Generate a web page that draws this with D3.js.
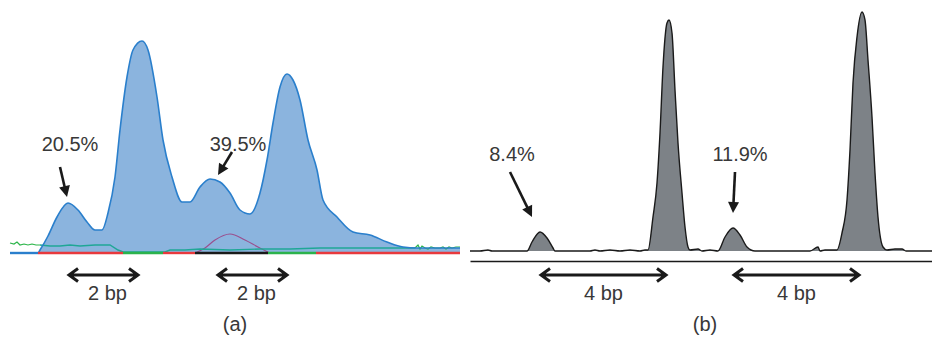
<!DOCTYPE html>
<html>
<head>
<meta charset="utf-8">
<script src="https://d3js.org/d3.v7.min.js"></script>
<style>
  body { margin: 0; background: #fff; }
  text { font-family: "Liberation Sans", Arial, sans-serif; font-size: 20px; fill: #383838; }
</style>
</head>
<body>
<script>
// ---- panel (a) : capillary trace, scan number vs signal ----
var scanA   = [0, 28, 30, 38, 47, 58, 68, 77, 85, 92, 98, 105, 110, 117, 123, 132, 138, 147, 153, 162, 172, 180, 190, 200, 210, 220, 230, 240, 250, 257, 263, 270, 277, 283, 290, 298, 307, 313, 327, 343, 360, 377, 393, 407, 450];
var signalA = [0, 0, 3, 17, 36, 50, 43, 31, 23, 23, 40, 76, 123, 176, 203, 212, 203, 156, 113, 76, 51, 51, 66, 74, 71, 60, 43, 39, 60, 93, 130, 166, 179, 173, 153, 113, 83, 53, 36, 21, 18, 11, 6, 5, 5];

// other dye channels
var scanTeal   = [30, 40, 50, 60, 70, 85, 100, 108, 113, 155, 160, 175, 190, 220, 250, 280, 310, 360, 405];
var tealA      = [8, 7, 7, 8, 7, 8, 8, 3, 1, 1, 3, 3, 4, 3, 4, 4, 5, 5, 5];
var scanGreenL = [0, 4, 7, 10, 14, 18, 22, 26, 30];
var greenL     = [10, 9, 11, 8, 9, 8, 9, 8, 8];
var scanGreenR = [405, 408, 410, 412, 415, 418, 421, 425, 430, 433, 436, 439, 442, 446, 450];
var greenR     = [5, 8, 4, 7, 5, 4, 6, 5, 5, 6, 4, 6, 5, 6, 6];
var scanPurple = [185, 195, 205, 220, 235, 248, 260];
var purpleA    = [0, 5, 13, 19, 13, 6, 0];

// base calls along the baseline
var baseCalls = ["C", "T", "A", "T", "G", "A", "T"];
var baseEnds  = [28, 113, 153, 185, 258, 306, 450];

// ---- panel (b) ----
var scanB   = [0, 10, 18, 22, 57, 62, 70, 77, 83, 85, 120, 125, 130, 140, 150, 160, 170, 175, 178, 183, 187, 190, 193, 197, 199, 202, 205, 208, 212, 215, 218, 220, 228, 232, 240, 248, 255, 263, 270, 277, 285, 330, 340, 348, 350, 355, 367, 372, 377, 380, 383, 387, 392, 395, 398, 402, 405, 408, 413, 417, 425, 432, 436, 462];
var signalB = [0, 0, 1, 0, 0, 9, 19, 13, 3, 0, 0, 1, 0, 1, 0, 1, 0, 1, 1, 34, 68, 118, 184, 228, 231, 218, 161, 108, 58, 24, 4, 1, 2, 0, 1, 0, 14, 23, 16, 4, 0, 0, 0, 4, 0, 1, 1, 18, 51, 101, 168, 214, 239, 231, 191, 134, 78, 34, 4, 1, 2, 2, 0, 0];

// annotations
var pctPeaksA  = [58, 200];
var pctLabelsA = ["20.5%", "39.5%"];
var pctPeaksB  = [70, 263];
var pctLabelsB = ["8.4%", "11.9%"];
var spansA = [[58, 129], [207, 278]];
var spansB = [[70, 197], [263, 390]];
var spanLabelA = "2 bp";
var spanLabelB = "4 bp";
var panelLabels = ["(a)", "(b)"];

var svgWidth = 932;
var svgHeight = 340;

var svg = d3.select("body")
  .append("svg")
  .attr("width", svgWidth)
  .attr("height", svgHeight);

// scales
var xA = d3.scaleLinear().domain([0, 450]).range([10, 460]);
var yA = d3.scaleLinear().domain([0, 220]).range([253, 33]);
var xB = d3.scaleLinear().domain([0, 462]).range([470, 932]);
var yB = d3.scaleLinear().domain([0, 240]).range([251, 11]);

function pairs(xs, ys) {
  return xs.map((x, i) => [x, ys[i]]);
}
function valueAt(xs, ys, x) {
  return ys[xs.indexOf(x)];
}

// arrow with a filled head
function arrow(g, x1, y1, x2, y2) {
  var dx = x2 - x1, dy = y2 - y1;
  var len = Math.hypot(dx, dy);
  var ux = dx / len, uy = dy / len;
  var hl = 11, hw = 5.5;
  var bx = x2 - ux * hl, by = y2 - uy * hl;
  g.append("line")
    .attr("x1", x1).attr("y1", y1)
    .attr("x2", bx + ux * 2).attr("y2", by + uy * 2)
    .attr("stroke", "#1a1a1a")
    .attr("stroke-width", 2.6);
  g.append("path")
    .attr("d", `M${x2},${y2}L${bx - uy * hw},${by + ux * hw}L${bx + uy * hw},${by - ux * hw}Z`)
    .attr("fill", "#1a1a1a");
}

// double-headed span arrow
function dblArrow(g, x1, x2, y) {
  g.append("path")
    .attr("d", `M${x1 + 1},${y}H${x2 - 1}` +
      `M${x1 + 10},${y - 6.5}L${x1 + 1},${y}L${x1 + 10},${y + 6.5}` +
      `M${x2 - 10},${y - 6.5}L${x2 - 1},${y}L${x2 - 10},${y + 6.5}`)
    .attr("fill", "none")
    .attr("stroke", "#1a1a1a")
    .attr("stroke-width", 3)
    .attr("stroke-linejoin", "miter");
}

// ================= panel (a) =================
var gA = svg.append("g");

var areaA = d3.area()
  .x(d => xA(d[0]))
  .y0(yA(0))
  .y1(d => yA(d[1]))
  .curve(d3.curveMonotoneX);

var lineA = d3.line()
  .x(d => xA(d[0]))
  .y(d => yA(d[1]))
  .curve(d3.curveMonotoneX);

var lineAraw = d3.line()
  .x(d => xA(d[0]))
  .y(d => yA(d[1]));

gA.append("path")
  .datum(pairs(scanA, signalA))
  .attr("d", areaA)
  .attr("fill", "#8bb4de");

gA.append("path")
  .datum(pairs(scanPurple, purpleA))
  .attr("d", lineA)
  .attr("fill", "none")
  .attr("stroke", "#9a4f8e")
  .attr("stroke-width", 1.2);

gA.append("path")
  .datum(pairs(scanTeal, tealA))
  .attr("d", lineAraw)
  .attr("fill", "none")
  .attr("stroke", "#1fa796")
  .attr("stroke-width", 1.4);

[pairs(scanGreenL, greenL), pairs(scanGreenR, greenR)].forEach(function(seg) {
  gA.append("path")
    .datum(seg)
    .attr("d", lineAraw)
    .attr("fill", "none")
    .attr("stroke", "#2cb54a")
    .attr("stroke-width", 1.2);
});

gA.append("path")
  .datum(pairs(scanA, signalA))
  .attr("d", lineA)
  .attr("fill", "none")
  .attr("stroke", "#2a7fcc")
  .attr("stroke-width", 1.6);

// base call colours on the baseline
var baseColor = d3.scaleOrdinal()
  .domain(["A", "C", "G", "T"])
  .range(["#2bb24c", "#2a7fcc", "#1a1a1a", "#e8393d"]);

baseCalls.forEach(function(b, i) {
  var start = i ? baseEnds[i - 1] : 0;
  gA.append("line")
    .attr("x1", xA(start))
    .attr("x2", xA(baseEnds[i]))
    .attr("y1", yA(0))
    .attr("y2", yA(0))
    .attr("stroke", baseColor(b))
    .attr("stroke-width", 2.4);
});

// percent labels with arrows
var layoutA = [
  {text: [2, -52], tail: [-8, -36], tip: [-1, -6]},
  {text: [28, -28], tail: [22, -27], tip: [8, -4]}
];
pctPeaksA.forEach(function(p, i) {
  var px = xA(p), py = yA(valueAt(scanA, signalA, p));
  var l = layoutA[i];
  gA.append("text")
    .attr("x", px + l.text[0])
    .attr("y", py + l.text[1])
    .attr("text-anchor", "middle")
    .text(pctLabelsA[i]);
  arrow(gA, px + l.tail[0], py + l.tail[1], px + l.tip[0], py + l.tip[1]);
});

spansA.forEach(function(s) {
  dblArrow(gA, xA(s[0]), xA(s[1]), 275);
  gA.append("text")
    .attr("x", (xA(s[0]) + xA(s[1])) / 2 + 4)
    .attr("y", 300)
    .attr("text-anchor", "middle")
    .text(spanLabelA);
});

gA.append("text")
  .attr("x", 235)
  .attr("y", 331)
  .attr("text-anchor", "middle")
  .text(panelLabels[0]);

// ================= panel (b) =================
var gB = svg.append("g");

var areaB = d3.area()
  .x(d => xB(d[0]))
  .y0(yB(0))
  .y1(d => yB(d[1]))
  .curve(d3.curveMonotoneX);

var lineB = d3.line()
  .x(d => xB(d[0]))
  .y(d => yB(d[1]))
  .curve(d3.curveMonotoneX);

gB.append("path")
  .datum(pairs(scanB, signalB))
  .attr("d", areaB)
  .attr("fill", "#7d8287");

gB.append("path")
  .datum(pairs(scanB, signalB))
  .attr("d", lineB)
  .attr("fill", "none")
  .attr("stroke", "#1a1a1a")
  .attr("stroke-width", 1.4);

// bottom axis line, no ticks
gB.append("g")
  .attr("transform", "translate(0, 261)")
  .call(d3.axisBottom(xB).ticks(0).tickSize(0).tickSizeOuter(0).tickFormat(""))
  .select(".domain")
  .attr("stroke", "#1a1a1a")
  .attr("stroke-width", 1.6);

var layoutB = [
  {text: [-28, -71], tail: [-30, -60], tip: [-8, -15]},
  {text: [7, -67], tail: [2, -56], tip: [0, -15]}
];
pctPeaksB.forEach(function(p, i) {
  var px = xB(p), py = yB(valueAt(scanB, signalB, p));
  var l = layoutB[i];
  gB.append("text")
    .attr("x", px + l.text[0])
    .attr("y", py + l.text[1])
    .attr("text-anchor", "middle")
    .text(pctLabelsB[i]);
  arrow(gB, px + l.tail[0], py + l.tail[1], px + l.tip[0], py + l.tip[1]);
});

spansB.forEach(function(s) {
  dblArrow(gB, xB(s[0]), xB(s[1]), 275);
  gB.append("text")
    .attr("x", (xB(s[0]) + xB(s[1])) / 2)
    .attr("y", 300)
    .attr("text-anchor", "middle")
    .text(spanLabelB);
});

gB.append("text")
  .attr("x", 705)
  .attr("y", 331)
  .attr("text-anchor", "middle")
  .text(panelLabels[1]);
</script>
</body>
</html>
